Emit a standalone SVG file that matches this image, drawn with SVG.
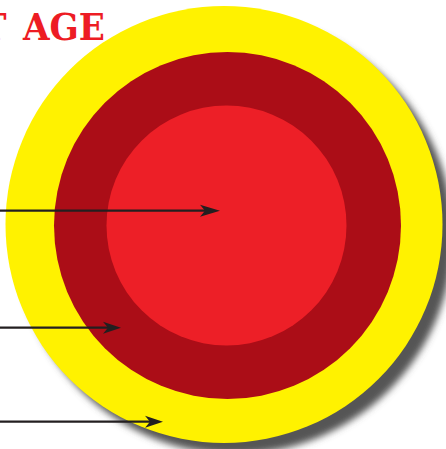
<svg xmlns="http://www.w3.org/2000/svg" width="446" height="449" viewBox="0 0 446 449">
<style>
.title{font-family:"DejaVu Serif","Liberation Serif",serif;font-size:37px;font-weight:bold;fill:#ed1c24}
.arrow{stroke:#231f20;stroke-width:2.2;fill:none}
.head{fill:#231f20}
</style>
<defs>
<filter id="blur" x="-10%" y="-10%" width="120%" height="120%"><feGaussianBlur stdDeviation="3.5"/></filter>
</defs>
<rect width="446" height="449" fill="#ffffff"/>
<g id="target">
<circle cx="235" cy="236" r="218" fill="#555555" filter="url(#blur)"/>
<circle id="outer" cx="224" cy="224.5" r="218.5" fill="#fff200"/>
<circle id="middle" cx="227.5" cy="225.5" r="173.5" fill="#ab0d17"/>
<circle id="inner" cx="226.5" cy="225.5" r="120" fill="#ed1f27"/>
</g>
<g id="title"><text class="title" y="40"><tspan x="-21">T</tspan><tspan x="23" textLength="82" lengthAdjust="spacingAndGlyphs">AGE</tspan></text></g>
<g id="connectors">
<line class="arrow" x1="0" y1="210.7" x2="206" y2="210.7"/>
<path class="head" d="M220,210.7 L200,204.7 L205,210.7 L200,216.7 Z"/>
<line class="arrow" x1="0" y1="327.7" x2="108" y2="327.7"/>
<path class="head" d="M121,327.7 L103,321.7 L108,327.7 L103,333.7 Z"/>
<line class="arrow" x1="0" y1="421.7" x2="150" y2="421.7"/>
<path class="head" d="M163,421.7 L145,415.7 L150,421.7 L145,427.7 Z"/>
</g>
</svg>
